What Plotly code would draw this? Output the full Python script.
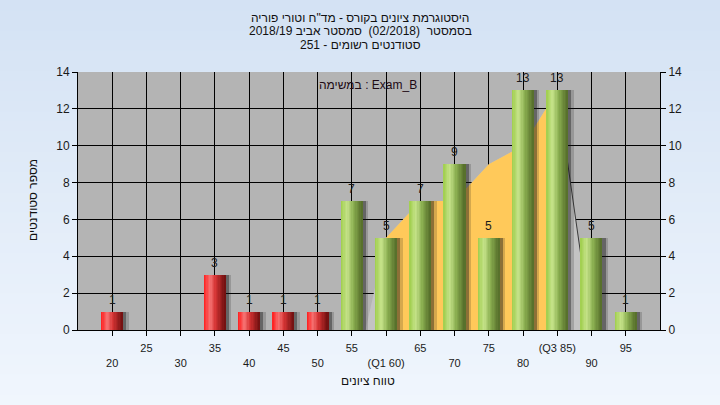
import plotly.graph_objects as go

# ---------------- data ----------------
bin_x = [20, 35, 40, 45, 50, 55, 60, 65, 70, 75, 80, 85, 90, 95]
counts = [1, 3, 1, 1, 1, 7, 5, 7, 9, 5, 13, 13, 5, 1]
pass_mark = 55

tick_vals = [20, 25, 30, 35, 40, 45, 50, 55, 60, 65, 70, 75, 80, 85, 90, 95]
tick_names = ["20", "25", "30", "35", "40", "45", "50", "55", "(Q1 60)", "65",
              "70", "75", "80", "(Q3 85)", "90", "95"]

area_x = [57, 60, 65, 70, 75, 80, 85, 90, 95]
area_y = [0, 5, 7, 7, 9, 10, 13, 0, 0]
q1, q3 = 60, 85

RLE, PDF = "\u202B", "\u202C"
title_lines = [
    "היסטוגרמת ציונים בקורס - מד\"ח וטורי פוריה",
    "בסמסטר  (02/2018)  סמסטר אביב 2018/19",
    "סטודנטים רשומים - 251",
]
legend_text = "במשימה : Exam_B"
x_title = "טווח ציונים"
y_title = "מספר סטודנטים"

# ---------------- geometry ----------------
W, H = 720, 405
L, R, T, B = 78, 60, 72, 75
PW, PH = W - L - R, H - T - B


def px_to_paper_x(px):
    return (px - L) / PW


def py_to_paper_y(py):
    return (H - B - py) / PH


FONT = "Liberation Sans, Arial, sans-serif"
fig = go.Figure()

# ---------------- background gradient ----------------
shapes = []
nb = 40
top_c = (212, 226, 244)
bot_c = (240, 246, 253)
for i in range(nb):
    t = i / (nb - 1)
    c = tuple(int(round(top_c[k] + (bot_c[k] - top_c[k]) * t)) for k in range(3))
    y0 = i * H / nb
    y1 = (i + 1) * H / nb + 1
    shapes.append(dict(type="rect", xref="paper", yref="paper", layer="below",
                       x0=px_to_paper_x(-2), x1=px_to_paper_x(W + 2),
                       y0=py_to_paper_y(y1), y1=py_to_paper_y(y0 - (2 if i == 0 else 0)),
                       fillcolor="rgb(%d,%d,%d)" % c, line=dict(width=0)))
shapes.append(dict(type="rect", xref="paper", yref="paper", layer="below",
                   x0=0, x1=1, y0=0, y1=1, fillcolor="#B4B4B4", line=dict(width=0)))

# ---------------- areas (base subplot, below bars) ----------------
fig.add_trace(go.Scatter(x=area_x, y=area_y, mode="lines", fill="tozeroy",
                         fillcolor="#C3C3C3", line=dict(width=0),
                         hoverinfo="skip", showlegend=False))
iq = [i for i, v in enumerate(area_x) if q1 <= v <= q3]
fig.add_trace(go.Scatter(x=[area_x[i] for i in iq], y=[area_y[i] for i in iq],
                         mode="lines", fill="tozeroy", fillcolor="#FFC95A",
                         line=dict(width=0), hoverinfo="skip", showlegend=False))
k85 = area_x.index(q3)
fig.add_trace(go.Scatter(x=area_x[k85:k85 + 2], y=area_y[k85:k85 + 2], mode="lines",
                         line=dict(color="#3A3A3A", width=1),
                         hoverinfo="skip", showlegend=False))

# ---------------- bars (overlay subplot) ----------------
bw = 3.1
for off, alpha in ((0.85, 0.18), (0.5, 0.38)):
    fig.add_trace(go.Bar(x=bin_x, y=counts, width=bw, offset=-bw / 2 + off,
                         xaxis="x2", yaxis="y2",
                         marker=dict(color="rgba(20,20,20,%s)" % alpha, line=dict(width=0)),
                         hoverinfo="skip", showlegend=False))

red_stops = [(0.0, (255, 28, 28)), (0.3, (246, 116, 116)), (0.55, (214, 52, 52)), (1.0, (110, 16, 16))]
green_stops = [(0.0, (160, 206, 76)), (0.3, (198, 227, 138)), (0.6, (138, 174, 80)), (1.0, (84, 108, 42))]


def grad(stops, t):
    for (t0, c0), (t1, c1) in zip(stops[:-1], stops[1:]):
        if t0 <= t <= t1:
            f = (t - t0) / (t1 - t0)
            return "rgb(%d,%d,%d)" % tuple(int(c0[k] + (c1[k] - c0[k]) * f) for k in range(3))
    return "rgb(%d,%d,%d)" % stops[-1][1]


N = 16
sw = bw / N
for i in range(N):
    t = (i + 0.5) / N
    cols = [grad(red_stops, t) if x < pass_mark else grad(green_stops, t) for x in bin_x]
    fig.add_trace(go.Bar(x=bin_x, y=counts, width=sw * 1.25, offset=-bw / 2 + i * sw,
                         xaxis="x2", yaxis="y2",
                         marker=dict(color=cols, line=dict(width=0)),
                         hoverinfo="skip", showlegend=False))

# ---------------- tick labels ----------------
tick_text = []
for v, n in zip(tick_vals, tick_names):
    if (v // 5) % 2 == 1:
        tick_text.append(n)
    else:
        tick_text.append("\u00a0<br>" + n)

# ---------------- annotations ----------------
ann = []
# value labels above bars
for xv, cv in zip(bin_x, counts):
    ann.append(dict(text=str(cv), xref="x2", yref="y2", x=xv, y=cv,
                    xanchor="center", yanchor="bottom", yshift=3, showarrow=False,
                    font=dict(family=FONT, size=12, color="#1A1A1A")))
for j, line in enumerate(title_lines):
    ann.append(dict(text=RLE + line + PDF, xref="paper", yref="paper",
                    x=px_to_paper_x(360), y=py_to_paper_y(18 + j * 13.5),
                    xanchor="center", yanchor="middle", showarrow=False,
                    font=dict(family=FONT, size=12, color="#111111")))
ann.append(dict(text=legend_text, xref="paper", yref="paper",
                x=px_to_paper_x(368), y=py_to_paper_y(85),
                xanchor="center", yanchor="middle", showarrow=False,
                font=dict(family=FONT, size=12, color="#1E0A14")))
ann.append(dict(text=x_title, xref="paper", yref="paper",
                x=px_to_paper_x(368), y=py_to_paper_y(381),
                xanchor="center", yanchor="middle", showarrow=False,
                font=dict(family=FONT, size=12, color="#111111")))
ann.append(dict(text=y_title, xref="paper", yref="paper", textangle=-90,
                x=px_to_paper_x(33), y=py_to_paper_y(200),
                xanchor="center", yanchor="middle", showarrow=False,
                font=dict(family=FONT, size=12, color="#111111")))

axis_font = dict(family=FONT, size=12, color="#1A1A1A")
fig.update_layout(
    width=W, height=H,
    margin=dict(l=L, r=R, t=T, b=B, pad=0),
    paper_bgcolor="#E3EDF9", plot_bgcolor="rgba(0,0,0,0)",
    barmode="overlay", bargap=0,
    shapes=shapes, annotations=ann,
    xaxis=dict(range=[15, 100], tickmode="array", tickvals=tick_vals, ticktext=tick_text,
               showgrid=True, gridcolor="#000000", gridwidth=1, zeroline=False,
               showline=True, linecolor="#000000", linewidth=1,
               ticks="outside", ticklen=5, tickcolor="#000000", ticklabelstandoff=3,
               tickfont=dict(family=FONT, size=11, color="#1A1A1A"), fixedrange=True),
    yaxis=dict(range=[0, 14], dtick=2, showgrid=True, gridcolor="#000000", gridwidth=1,
               zeroline=False, showline=True, linecolor="#000000", linewidth=1,
               ticks="outside", ticklen=5, tickcolor="#000000", tickfont=axis_font),
    xaxis2=dict(range=[15, 100], overlaying="x", showgrid=False, zeroline=False,
                showline=False, showticklabels=False, ticks=""),
    yaxis2=dict(range=[0, 14], dtick=2, overlaying="y", side="right", showgrid=False,
                zeroline=False, showline=True, linecolor="#000000", linewidth=1,
                ticks="outside", ticklen=5, tickcolor="#000000", tickfont=axis_font),
)

fig.write_html("out.html", config={"displayModeBar": False},
               post_script="document.body.style.margin='0';document.body.style.overflow='hidden';")
